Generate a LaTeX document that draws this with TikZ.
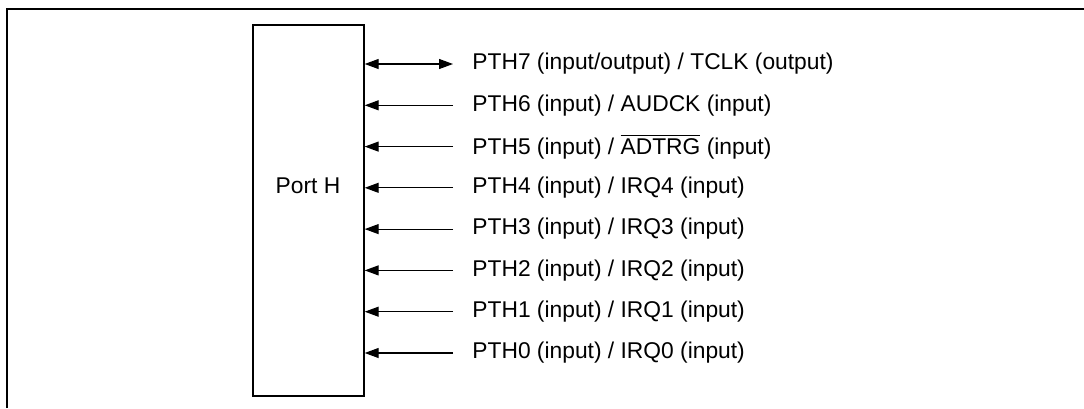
\documentclass[tikz,border=0pt]{standalone}
\usepackage{fontspec}
\setmainfont{Liberation Sans}
\usetikzlibrary{arrows.meta}
\begin{document}
\begin{tikzpicture}[
  x=0.5pt,
  y=-0.5pt,
  font=\fontsize{11.4}{13}\selectfont,
  siglabel/.style={anchor=west, inner xsep=9.5pt, inner ysep=0pt},
  wire/.style={line width=0.6pt},
  tip/.tip={Triangle[length=7pt,width=5pt]}
]
\useasboundingbox (0,0) rectangle (1084,408);
% open frame round the figure
\draw[line width=1.3pt] (7,408) -- (7,9) -- (1084,9);

% port block
\node[draw, line width=0.7pt, minimum width=55.5pt, minimum height=185.5pt, inner sep=0pt] (porth) at (308.5,210.5) {};
\node (portname) at (308,186) {Port H};

% pin labels
\node[siglabel] (p7) at (453,64) {PTH7 (input/output) / TCLK (output)};
\node[siglabel] (p6) at (453,105.3) {PTH6 (input) / AUDCK (input)};
\node[siglabel] (p5) at (453,146.6) {PTH5 (input) / $\overline{\hbox{ADTRG}}$ (input)};
\foreach \i in {0,...,4} {
  \node[siglabel] (p\i) at (453,{353-41.3*\i}) {PTH\i{} (input) / IRQ\i{} (input)};
}

% signal directions
\draw[wire, tip-tip] (p7.west) -- (porth.east |- p7.west);
\foreach \i in {0,...,6} {
  \draw[wire, -tip] (p\i.west) -- (porth.east |- p\i.west);
}
\end{tikzpicture}
\end{document}
